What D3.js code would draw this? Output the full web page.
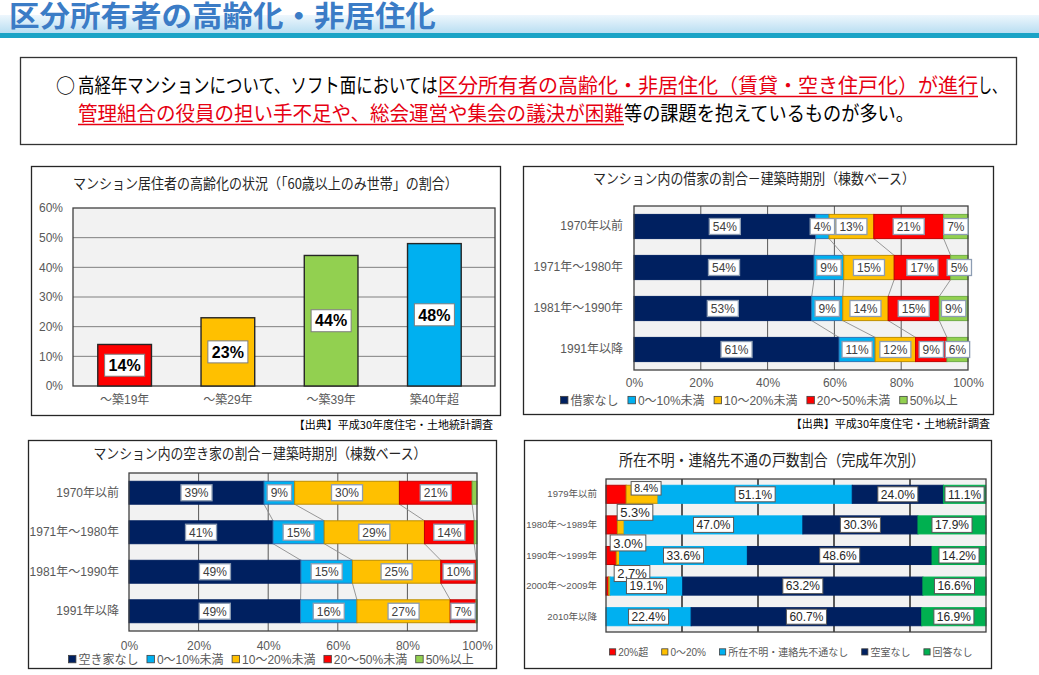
<!DOCTYPE html>
<html><head><meta charset="utf-8">
<script src="https://cdn.jsdelivr.net/npm/d3@7"></script>
<style>body{margin:0;background:#fff;} svg{display:block;}</style>
</head><body>
<svg id="c" width="1039" height="675"></svg>
<script>
// ---------------- DATA ----------------
const headerTitle = "区分所有者の高齢化・非居住化";
const introLine1 = ["高経年マンションについて、ソフト面においては", "区分所有者の高齢化・非居住化（賃貸・空き住戸化）が進行", "し、"];
const introLine2 = ["管理組合の役員の担い手不足や、総会運営や集会の議決が困難", "等の課題を抱えているものが多い。"];
const sourceText = "【出典】平成30年度住宅・土地統計調査";

// Chart 1
const c1Title = "マンション居住者の高齢化の状況（「60歳以上のみ世帯」の割合）";
const c1Categories = ["～築19年", "～築29年", "～築39年", "築40年超"];
const c1Values = [14, 23, 44, 48];
const c1Ticks = [0, 10, 20, 30, 40, 50, 60];

// Chart 2
const c2Title = "マンション内の借家の割合－建築時期別（棟数ベース）";
const c2Rows = ["1970年以前", "1971年～1980年", "1981年～1990年", "1991年以降"];
const c2Series = ["借家なし", "0～10%未満", "10～20%未満", "20～50%未満", "50%以上"];
const c2None = [54.4, 53.9, 53.2, 61.4];
const c2Under10 = [4.0, 8.9, 9.3, 10.8];
const c2Under20 = [13.4, 15.1, 13.6, 12.1];
const c2Under50 = [20.9, 16.9, 15.3, 9.4];
const c2Over50 = [7.3, 5.2, 8.6, 6.3];
const pctTicks = [0, 20, 40, 60, 80, 100];

// Chart 3
const c3Title = "マンション内の空き家の割合－建築時期別（棟数ベース）";
const c3Rows = ["1970年以前", "1971年～1980年", "1981年～1990年", "1991年以降"];
const c3Series = ["空き家なし", "0～10%未満", "10～20%未満", "20～50%未満", "50%以上"];
const c3None = [38.8, 41.4, 49.4, 49.3];
const c3Under10 = [8.8, 14.7, 14.8, 16.2];
const c3Under20 = [30.1, 28.8, 25.4, 26.8];
const c3Under50 = [20.9, 14.3, 10.2, 7.4];
const c3Over50 = [1.4, 0.8, 0.2, 0.3];

// Chart 4
const c4Title = "所在不明・連絡先不通の戸数割合（完成年次別）";
const c4Rows = ["1979年以前", "1980年～1989年", "1990年～1999年", "2000年～2009年", "2010年以降"];
const c4Series = ["20%超", "0～20%", "所在不明・連絡先不通なし", "空室なし", "回答なし"];
const c4Over20 = [5.3, 3.0, 2.7, 0.7, 0];
const c4Upto20 = [8.4, 1.8, 0.9, 0.4, 0];
const c4Clear = [51.1, 47.0, 33.6, 19.1, 22.4];
const c4Vacant = [24.0, 30.3, 48.6, 63.2, 60.7];
const c4NoAnswer = [11.1, 17.9, 14.2, 16.6, 16.9];

// ---------------- STYLE ----------------
const FONT = "'Liberation Sans', Arial, 'Noto Sans CJK JP', sans-serif";
const JFONT = "'Noto Sans CJK JP', sans-serif";
const c1Colors = ["#ff0000", "#ffc000", "#92d050", "#00b0f0"];
const stackColors = ["#002060", "#00b0f0", "#ffc000", "#ff0000", "#92d050"];
const stackStrokes = ["#002060", "#2e75b6", "#bf9000", "#c00000", "#70ad47"];
const c4Colors = ["#ff0000", "#ffc000", "#00b0f0", "#002060", "#00b050"];
const c4Strokes = ["#c00000", "#bf9000", "#00b0f0", "#002060", "#00b050"];

const svg = d3.select("#c");
const fmtPct = v => Math.round(v) + "%";
const fmtPct1 = v => v.toFixed(1) + "%";

// text squeezed/stretched horizontally to a given width (keeps bounding box honest)
function fitText(parent, txt, x, y, len, attrs) {
  const t = parent.append("text").attr("x", 0).attr("y", 0);
  Object.entries(attrs).forEach(([k, v]) => t.attr(k, v));
  t.text(txt);
  const w = t.node().getComputedTextLength();
  t.attr("transform", `translate(${x},${y}) scale(${len / w},1)`);
  return t;
}

// ---------------- HEADER ----------------
const defs = svg.append("defs");
const grad = defs.append("linearGradient").attr("id", "band").attr("x1", 0).attr("x2", 0).attr("y1", 0).attr("y2", 1);
grad.append("stop").attr("offset", "0%").attr("stop-color", "#eef7fd");
grad.append("stop").attr("offset", "100%").attr("stop-color", "#b9def2");
svg.append("rect").attr("x", 0).attr("y", 15).attr("width", 1039).attr("height", 18).attr("fill", "url(#band)");
svg.append("rect").attr("x", 0).attr("y", 33).attr("width", 1039).attr("height", 5).attr("fill", "#1aa3c6");
fitText(svg, headerTitle, 9, 26.5, 427, { "font-family": JFONT, "font-weight": 700, "font-size": 29, fill: "#3b7cc6" });

// ---------------- INTRO BOX ----------------
svg.append("rect").attr("x", 20.5).attr("y", 57.5).attr("width", 996).attr("height", 87)
  .attr("fill", "#fff").attr("stroke", "#333").attr("stroke-width", 1.3);
function seg(txt, x, y, len, color, underline) {
  fitText(svg, txt, x, y, len, { "font-family": JFONT, "font-size": 20, fill: color });
  if (underline) svg.append("line").attr("x1", x).attr("x2", x + len).attr("y1", y + 3.5).attr("y2", y + 3.5)
    .attr("stroke", color).attr("stroke-width", 1.6);
}
svg.append("text").attr("x", 56).attr("y", 93).attr("font-family", JFONT).attr("font-size", 19).attr("fill", "#000").text("○");
seg(introLine1[0], 78, 93, 360, "#000", false);
seg(introLine1[1], 438, 93, 540, "#e60012", true);
seg(introLine1[2], 978, 93, 28, "#000", false);
seg(introLine2[0], 78, 121, 546, "#e60012", true);
seg(introLine2[1], 624, 121, 290, "#000", false);

// ---------------- HELPERS ----------------
function chartBox(x, y, w, h, title, tcx, tcy, tlen, tsize) {
  svg.append("rect").attr("x", x + 0.5).attr("y", y + 0.5).attr("width", w).attr("height", h)
    .attr("fill", "#fff").attr("stroke", "#262626").attr("stroke-width", 1.3);
  fitText(svg, title, tcx - tlen / 2, tcy, tlen, { "font-family": JFONT, "font-size": tsize, fill: "#262626" });
}
function labelBox(g, cx, cy, txt, o) {
  const t = g.append("text").attr("x", cx).attr("y", cy).attr("text-anchor", "middle").attr("dy", "0.36em")
    .attr("font-family", FONT).attr("font-size", o.size).attr("font-weight", o.weight || 400)
    .attr("fill", o.color || "#404040").text(txt);
  const w = t.node().getComputedTextLength();
  g.insert("rect", () => t.node()).attr("x", cx - w / 2 - o.padX).attr("y", cy - o.h / 2)
    .attr("width", w + 2 * o.padX).attr("height", o.h).attr("fill", "#fff")
    .attr("stroke", o.stroke).attr("stroke-width", o.sw || 1);
}
function legend(items, colors, strokes, x, y, size, gap) {
  let cx = x;
  items.forEach((it, i) => {
    svg.append("rect").attr("x", cx + 0.5).attr("y", y - size * 0.72).attr("width", size * 0.62).attr("height", size * 0.62)
      .attr("fill", colors[i]).attr("stroke", "#404040").attr("stroke-width", 0.8);
    const t = svg.append("text").attr("x", cx + size * 0.62 + 3).attr("y", y).attr("font-family", FONT)
      .attr("font-size", size).attr("fill", "#595959").text(it);
    cx += size * 0.62 + 3 + t.node().getComputedTextLength() + gap;
  });
}
function sourceNote(xr, y) {
  svg.append("text").attr("x", xr).attr("y", y).attr("text-anchor", "end").attr("font-family", JFONT)
    .attr("font-size", 11).attr("fill", "#000").text(sourceText);
}

// ---------------- CHART 1 ----------------
(function () {
  chartBox(31, 166, 469, 249, c1Title, 265.5, 189, 385, 14.5);
  const P = { x0: 73, x1: 495, y0: 208, y1: 386 };
  const g = svg.append("g");
  const y = d3.scaleLinear().domain([0, 60]).range([P.y1, P.y0]);
  const x = d3.scaleBand().domain(c1Categories).range([P.x0, 486]).paddingInner(0.48).paddingOuter(0.24);
  g.append("rect").attr("x", P.x0).attr("y", P.y0).attr("width", P.x1 - P.x0).attr("height", P.y1 - P.y0).attr("fill", "#f2f2f2");
  g.selectAll(".gl").data(c1Ticks.slice(1, -1)).join("line")
    .attr("x1", P.x0).attr("x2", P.x1).attr("y1", d => y(d)).attr("y2", d => y(d)).attr("stroke", "#808080").attr("stroke-width", 1);
  g.append("rect").attr("x", P.x0).attr("y", P.y0).attr("width", P.x1 - P.x0).attr("height", P.y1 - P.y0)
    .attr("fill", "none").attr("stroke", "#404040").attr("stroke-width", 1.3);
  g.selectAll(".bar").data(c1Values).join("rect")
    .attr("x", (d, i) => x(c1Categories[i])).attr("y", d => y(d)).attr("width", x.bandwidth())
    .attr("height", d => y(0) - y(d)).attr("fill", (d, i) => c1Colors[i]).attr("stroke", "#262626").attr("stroke-width", 1.4);
  c1Values.forEach((v, i) => labelBox(g, x(c1Categories[i]) + x.bandwidth() / 2, (y(v) + y(0)) / 2, v + "%",
    { size: 16, weight: 700, color: "#000", padX: 4, h: 22, stroke: "#7f7f7f" }));
  const ya = g.append("g").attr("transform", `translate(${P.x0},0)`)
    .call(d3.axisLeft(y).tickValues(c1Ticks).tickFormat(d => d + "%").tickSize(0).tickPadding(10));
  ya.select(".domain").remove();
  ya.selectAll("text").attr("font-family", FONT).attr("font-size", 12).attr("fill", "#595959");
  const xa = g.append("g").attr("transform", `translate(0,${P.y1})`)
    .call(d3.axisBottom(x).tickSize(0).tickPadding(9));
  xa.select(".domain").remove();
  xa.selectAll("text").attr("font-family", FONT).attr("font-size", 12).attr("fill", "#595959");
  sourceNote(493, 429);
})();

// ---------------- STACKED HORIZONTAL CHART ----------------
function hStack(cfg) {
  const g = svg.append("g");
  const data = cfg.rows.map((r, i) => { const o = { row: r }; cfg.keys.forEach((k, j) => o[k] = cfg.values[j][i]); return o; });
  const stack = d3.stack().keys(cfg.keys)(data);
  const x = d3.scaleLinear().domain([0, 100]).range([cfg.x0, cfg.x1]);
  const y = d3.scaleBand().domain(cfg.rows).range([cfg.y0, cfg.y1]).paddingInner(cfg.pad).paddingOuter(cfg.pad / 2);
  const bw = y.bandwidth();
  g.append("rect").attr("x", cfg.x0).attr("y", cfg.y0).attr("width", cfg.x1 - cfg.x0).attr("height", cfg.y1 - cfg.y0).attr("fill", "#f2f2f2");
  g.selectAll(".gl").data(pctTicks.slice(1, -1)).join("line")
    .attr("x1", d => x(d)).attr("x2", d => x(d)).attr("y1", cfg.y0).attr("y2", cfg.y1)
    .attr("stroke", cfg.gridColor).attr("stroke-width", cfg.gridWidth);
  if (cfg.seriesLines) {
    stack.slice(0, -1).forEach(s => {
      for (let i = 0; i < cfg.rows.length - 1; i++) {
        g.append("line").attr("x1", x(s[i][1])).attr("y1", y(cfg.rows[i]) + bw)
          .attr("x2", x(s[i + 1][1])).attr("y2", y(cfg.rows[i + 1]))
          .attr("stroke", "#8c8c8c").attr("stroke-width", 0.9);
      }
    });
  }
  g.selectAll(".s").data(stack).join("g")
    .attr("fill", (d, i) => cfg.colors[i]).attr("stroke", (d, i) => cfg.strokes[i]).attr("stroke-width", 1)
    .selectAll("rect").data(d => d).join("rect")
    .attr("x", d => x(d[0])).attr("y", d => y(d.data.row))
    .attr("width", d => Math.max(0, x(d[1]) - x(d[0]))).attr("height", bw);
  g.append("rect").attr("x", cfg.x0).attr("y", cfg.y0).attr("width", cfg.x1 - cfg.x0).attr("height", cfg.y1 - cfg.y0)
    .attr("fill", "none").attr("stroke", "#404040").attr("stroke-width", 1.3);
  // data labels
  stack.forEach((s, si) => s.forEach((d, ri) => {
    const v = d[1] - d[0];
    const special = (cfg.callouts || []).find(c => c.s === si && c.r === ri);
    if (special) {
      const cx = special.mode === "below" ? x(d[0]) + special.dx : (x(d[0]) + x(d[1])) / 2 + special.dx;
      const cy = special.mode === "below" ? y(d.data.row) + bw + special.dy : y(d.data.row) + bw / 2 + special.dy;
      labelBox(g, cx, cy, cfg.fmt(cfg.values[si][ri]), Object.assign({}, cfg.lab, { size: special.size, h: special.size + 3 }));
      return;
    }
    if (v < cfg.minLabel) return;
    labelBox(g, (x(d[0]) + x(d[1])) / 2, y(d.data.row) + bw / 2, cfg.fmt(cfg.values[si][ri]), cfg.lab);
  }));
  const ya = g.append("g").attr("transform", `translate(${cfg.x0},0)`)
    .call(d3.axisLeft(y).tickSize(0).tickPadding(cfg.rowPad));
  ya.select(".domain").remove();
  ya.selectAll("text").attr("font-family", FONT).attr("font-size", cfg.rowFont).attr("fill", "#595959");
  if (cfg.xTicks) {
    const xa = g.append("g").attr("transform", `translate(0,${cfg.y1})`)
      .call(d3.axisBottom(x).tickValues(pctTicks).tickFormat(d => d + "%").tickSize(0).tickPadding(cfg.xPad));
    xa.select(".domain").remove();
    xa.selectAll("text").attr("font-family", FONT).attr("font-size", 12).attr("fill", "#595959");
  }
}

// ---------------- CHART 2 ----------------
chartBox(523, 166, 470, 248, c2Title, 754, 184, 322, 14.5);
hStack({
  rows: c2Rows, keys: c2Series, values: [c2None, c2Under10, c2Under20, c2Under50, c2Over50],
  colors: stackColors, strokes: stackStrokes, x0: 634, x1: 968, y0: 206, y1: 370, pad: 0.41,
  gridColor: "#595959", gridWidth: 1, seriesLines: true, minLabel: 2, fmt: fmtPct,
  lab: { size: 12, padX: 3.5, h: 16, stroke: "#8d9db3", sw: 1.3, color: "#404040" },
  rowPad: 11, rowFont: 12, xTicks: true, xPad: 8
});
legend(c2Series, stackColors, stackStrokes, 560, 405, 12, 9);
sourceNote(990, 428);

// ---------------- CHART 3 ----------------
chartBox(28, 440, 468, 228, c3Title, 260, 459, 333, 14.5);
hStack({
  rows: c3Rows, keys: c3Series, values: [c3None, c3Under10, c3Under20, c3Under50, c3Over50],
  colors: stackColors, strokes: stackStrokes, x0: 129, x1: 477, y0: 473, y1: 631, pad: 0.42,
  gridColor: "#595959", gridWidth: 1, seriesLines: true, minLabel: 2, fmt: fmtPct,
  lab: { size: 12, padX: 3.5, h: 16, stroke: "#8d9db3", sw: 1.3, color: "#404040" },
  rowPad: 10, rowFont: 12, xTicks: true, xPad: 10
});
legend(c3Series, stackColors, stackStrokes, 68, 664, 12, 8);

// ---------------- CHART 4 ----------------
chartBox(524, 440, 467, 228, c4Title, 772, 466, 306, 15.5);
hStack({
  rows: c4Rows, keys: c4Series, values: [c4Over20, c4Upto20, c4Clear, c4Vacant, c4NoAnswer],
  colors: c4Colors, strokes: c4Strokes, x0: 606, x1: 986, y0: 479, y1: 632, pad: 0.41,
  gridColor: "#595959", gridWidth: 2, seriesLines: false, minLabel: 10, fmt: fmtPct1,
  lab: { size: 12, padX: 3, h: 15, stroke: "#595959", sw: 1, color: "#262626" },
  callouts: [
    { s: 1, r: 0, mode: "center", dx: 4, dy: -6, size: 10.5 },
    { s: 0, r: 0, mode: "below", dx: 29, dy: 9, size: 13 },
    { s: 0, r: 1, mode: "below", dx: 22, dy: 9, size: 13 },
    { s: 0, r: 2, mode: "below", dx: 26, dy: 9, size: 13 }
  ],
  rowPad: 9, rowFont: 9.5, xTicks: false
});
legend(c4Series, c4Colors, c4Strokes, 609, 656, 10, 13);
</script>
</body></html>
